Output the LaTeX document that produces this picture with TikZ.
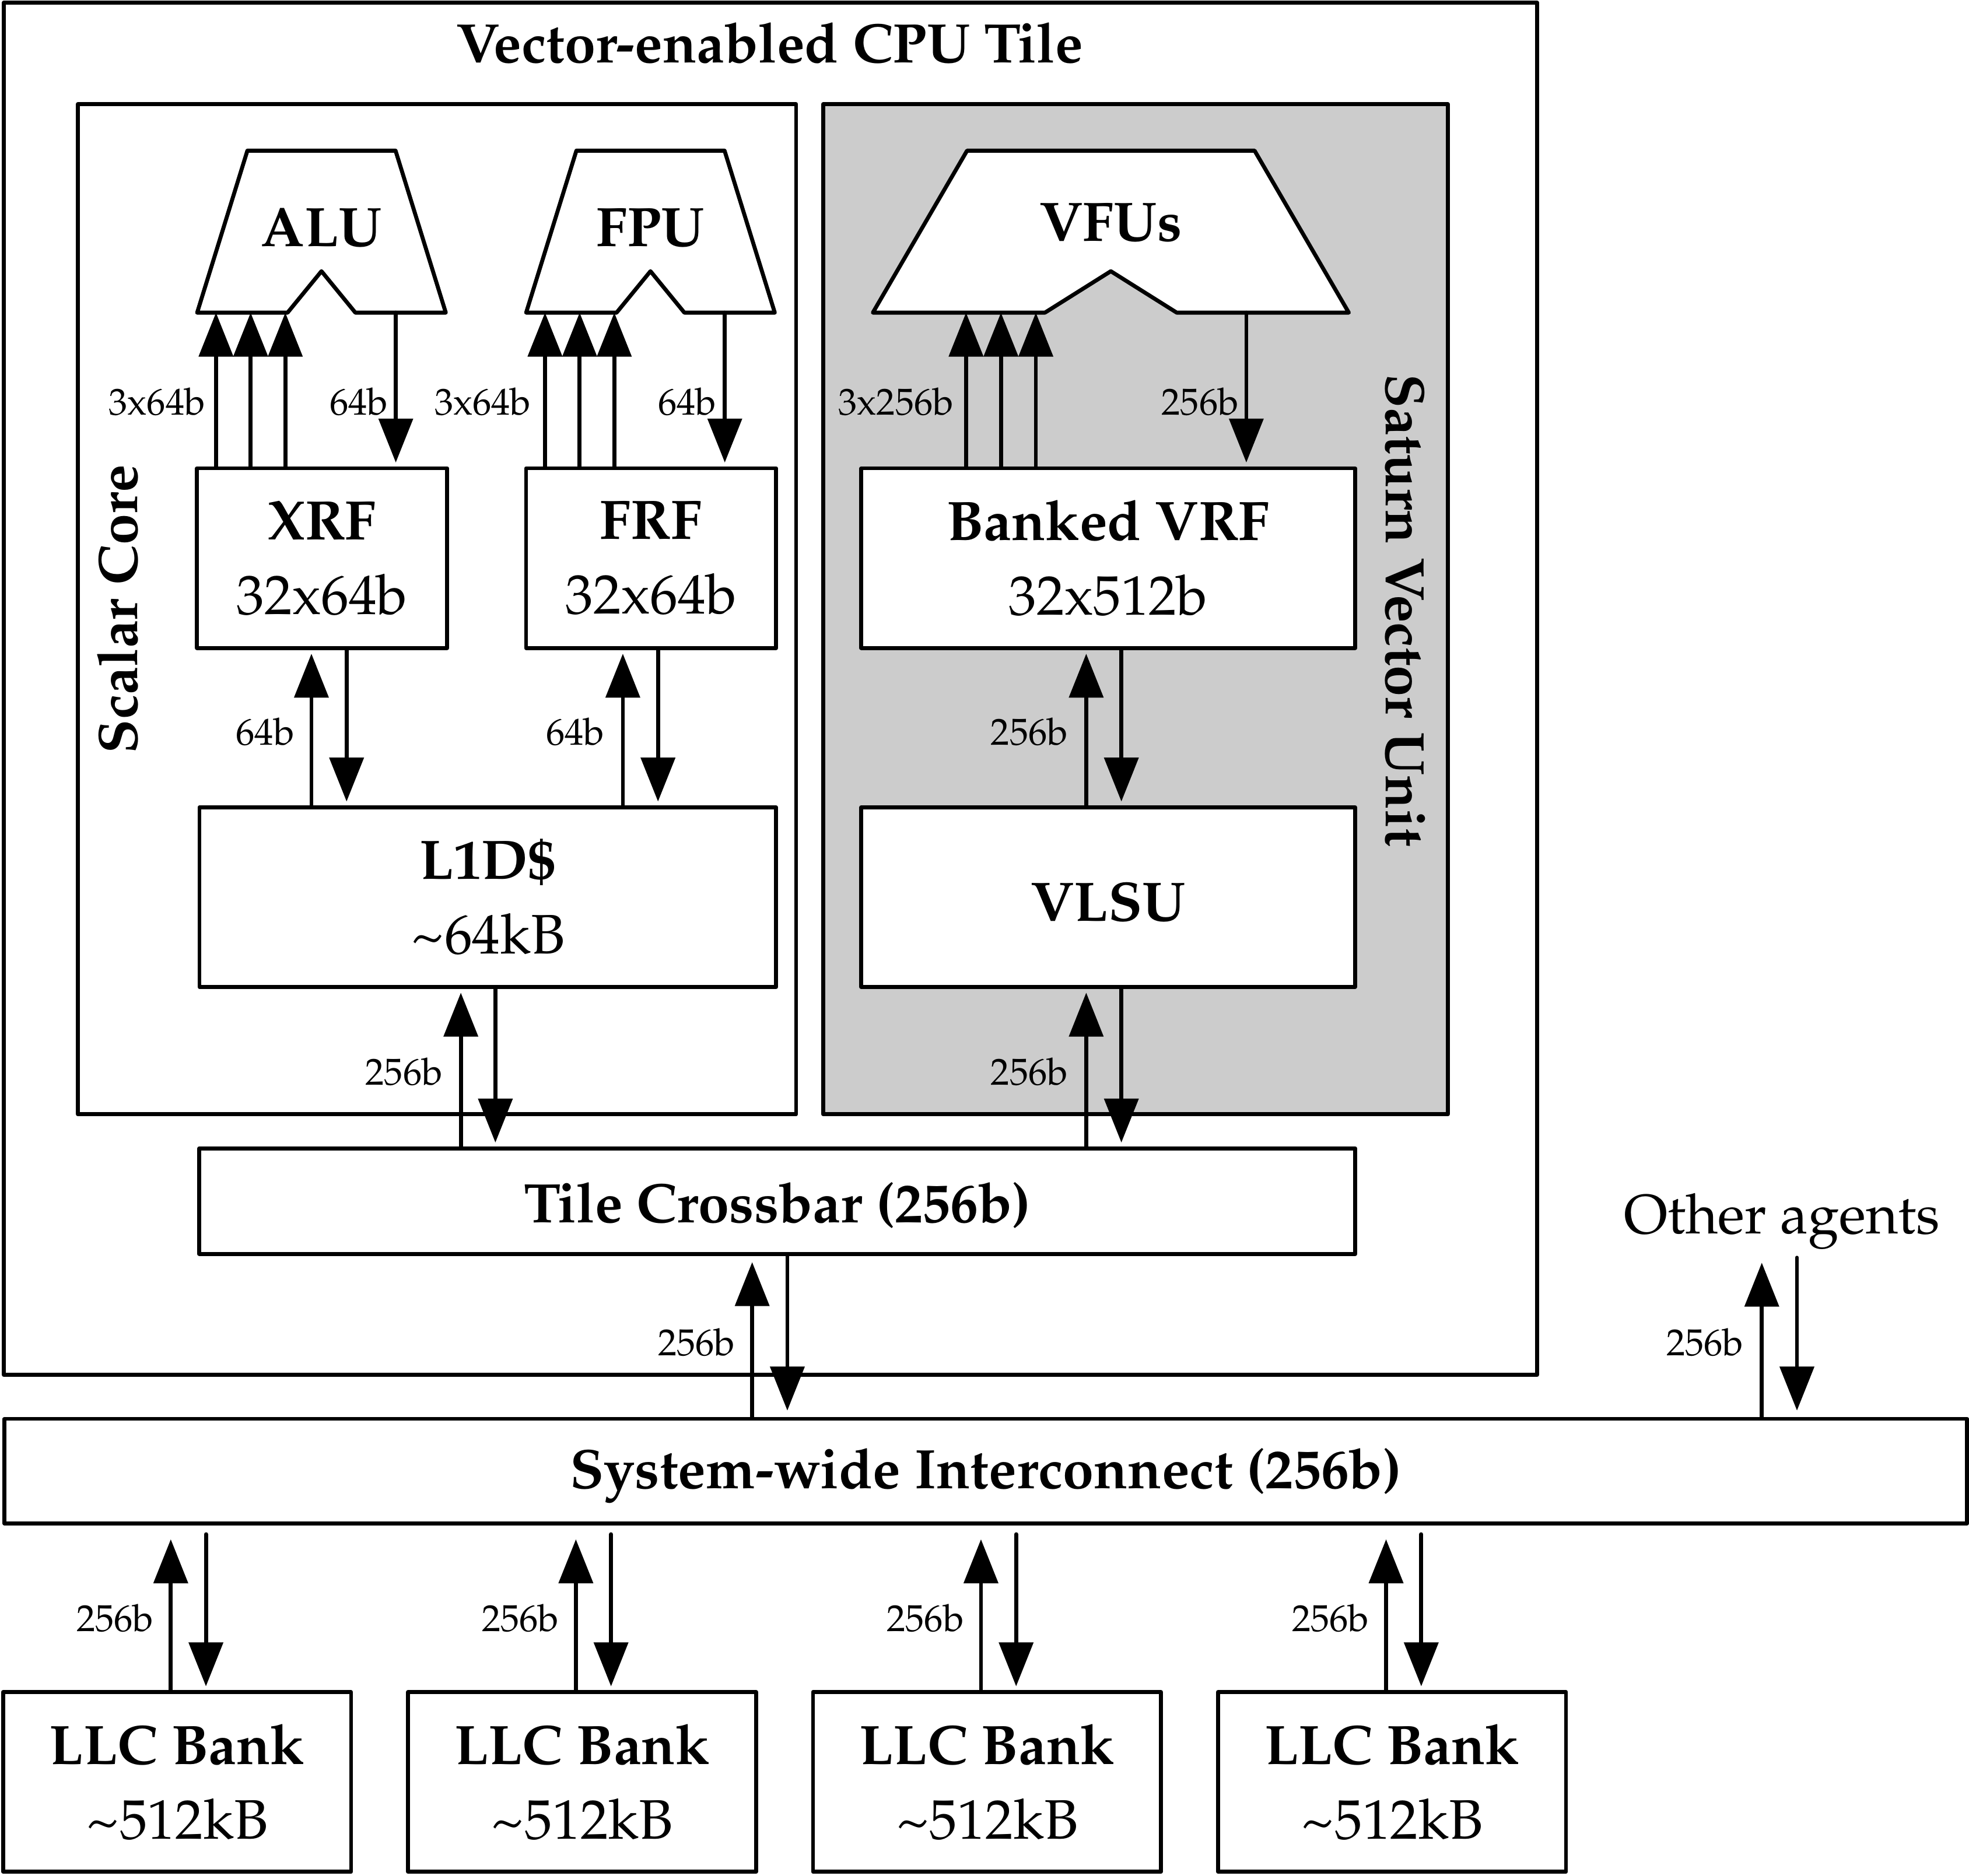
\documentclass[tikz,border=0pt]{standalone}
\IfFileExists{mathpazo.sty}{\usepackage[T1]{fontenc}\usepackage{mathpazo}}{\usepackage{fontspec}\setmainfont{Liberation Serif}}
\usetikzlibrary{arrows.meta}

\newcommand\blockfont{\fontsize{12.6}{16.9}\selectfont}
\newcommand\busfont{\fontsize{8.5}{10}\selectfont}

\begin{document}
\begin{tikzpicture}[x=0.01cm, y=-0.01cm,
  line width=0.9pt, line cap=round, line join=round,
  blk/.style={draw, fill=white, inner sep=0pt, align=center, font=\blockfont,
    execute at begin node={\rule{0pt}{11pt}}},
  bus/.style={-{Triangle[length=3.5mm, width=2.7mm]}, shorten >=0.3mm},
  lbl/.style={font=\busfont, inner sep=0pt, anchor=east},
  title/.style={font=\blockfont\bfseries, inner sep=0pt, anchor=base}]

\path [use as bounding box] (0,0) rectangle (1568,1493.7);

% TILE
\draw (3,2) rectangle (1224,1095);
\node [title] (tiletxt) at (613,50) {Vector-enabled CPU Tile};
\draw (62,83) rectangle (634,887.5);
\draw [fill=black!20] (655.5,83) rectangle (1153,887.5);
\node [title, rotate=90] (coretxt) at (109.6,485) {Scalar Core};
\node [title, rotate=-90] (vectxt) at (1104,486) {Saturn Vector Unit};

% FUNCTIONAL UNITS
\coordinate (alu) at (256,249);
\coordinate (fpu) at (518,249);
\coordinate (vfu) at (884.6,249);
\foreach \n in {alu,fpu}
  \draw [fill=white] (\n) ++(-99,0) -- ++(40,-129) -- ++(118,0) -- ++(40,129)
    -- ++(-72,0) -- ++(-27,-33) -- ++(-27,33) -- cycle;
\draw [fill=white] (vfu) ++(-189.5,0) -- ++(75,-129) -- ++(229,0) -- ++(75,129)
  -- ++(-137,0) -- ++(-52.5,-33) -- ++(-52.5,33) -- cycle;
\node [title] (alutxt) at (256,196) {ALU};
\node [title] (fputxt) at (518,196) {FPU};
\node [title] (vfutxt) at (884.6,192) {VFUs};

% BLOCKS
\node [blk, minimum width=1.99cm, minimum height=1.43cm] (xrf) at (256.5,444.5) {\textbf{XRF}\\32x64b};
\node [blk, minimum width=1.99cm, minimum height=1.43cm] (frf) at (518.5,444.5) {\textbf{FRF}\\32x64b};
\node [blk, minimum width=3.93cm, minimum height=1.43cm] (vrf) at (882.5,444.5) {\textbf{Banked VRF}\\32x512b};
\node [blk, minimum width=4.59cm, minimum height=1.43cm] (l1d) at (388.5,714.5) {\textbf{L1D\$}\\\textasciitilde 64kB};
\node [blk, minimum width=3.93cm, minimum height=1.43cm] (vlsu) at (882.5,714.5) {\textbf{VLSU}};
\node [blk, minimum width=9.2cm, minimum height=0.84cm] (xbar) at (619,956.6) {\textbf{Tile Crossbar (256b)}};
\node [blk, minimum width=15.62cm, minimum height=0.833cm] (noc) at (785,1171.7) {\textbf{System-wide Interconnect (256b)}};
\node [font=\blockfont, inner sep=0pt, anchor=base] (oth) at (1419,982.6) {Other agents};
\foreach \i in {0,...,3}
  \node [blk, minimum width=2.77cm, minimum height=1.43cm] (llc\i) at (141+\i*322.5,1419.2) {\textbf{LLC Bank}\\\textasciitilde 512kB};

% BUSES
\foreach \x in {172,199.6,227.2}
  \draw [bus, shorten >=0mm] (xrf.north -| \x,0) -- (alu -| \x,0);
\draw [bus] (alu -| 315.2,0) -- (xrf.north -| 315.2,0);
\foreach \x in {434,461.6,489.2}
  \draw [bus, shorten >=0mm] (frf.north -| \x,0) -- (fpu -| \x,0);
\draw [bus] (fpu -| 577.2,0) -- (frf.north -| 577.2,0);
\foreach \x in {769.3,797.1,824.9}
  \draw [bus, shorten >=0mm] (vrf.north -| \x,0) -- (vfu -| \x,0);
\draw [bus] (vfu -| 992.5,0) -- (vrf.north -| 992.5,0);

\draw [bus] (l1d.north -| 248,0) -- (xrf.south -| 248,0);
\draw [bus] (xrf.south -| 276,0) -- (l1d.north -| 276,0);
\draw [bus] (l1d.north -| 496,0) -- (frf.south -| 496,0);
\draw [bus] (frf.south -| 524,0) -- (l1d.north -| 524,0);
\draw [bus] (vlsu.north -| 865,0) -- (vrf.south -| 865,0);
\draw [bus] (vrf.south -| 893,0) -- (vlsu.north -| 893,0);

\draw [bus] (xbar.north -| 367,0) -- (l1d.south -| 367,0);
\draw [bus] (l1d.south -| 394.5,0) -- (xbar.north -| 394.5,0);
\draw [bus] (xbar.north -| 865,0) -- (vlsu.south -| 865,0);
\draw [bus] (vlsu.south -| 893,0) -- (xbar.north -| 893,0);

\draw [bus, shorten >=0.5mm] (noc.north -| 599,0) -- (xbar.south -| 599,0);
\draw [bus, shorten >=0.5mm] (xbar.south -| 627,0) -- (noc.north -| 627,0);
\draw [bus, shorten >=0.9mm] (noc.north -| 1403,0) -- (oth.south -| 1403,0);
\draw [bus, shorten <=0.5mm, shorten >=0.5mm] (oth.south -| 1431,0) -- (noc.north -| 1431,0);

\foreach \i in {0,...,3} {
  \draw [bus, shorten >=1.1mm] (llc\i.north -| 136+\i*322.6,0) -- (noc.south -| 136+\i*322.6,0);
  \draw [bus, shorten <=0.7mm] (noc.south -| 164+\i*322.6,0) -- (llc\i.north -| 164+\i*322.6,0);
  \node [lbl] (llclbl\i) at (124+\i*322.6,1289) {256b};
}

% WIDTHS
\node [lbl] (alulbla) at (165,320) {3x64b};
\node [lbl] (alulblb) at (310.5,320) {64b};
\node [lbl] (fpulbla) at (424.5,320) {3x64b};
\node [lbl] (fpulblb) at (572,320) {64b};
\node [lbl] (vfulbla) at (761,320) {3x256b};
\node [lbl] (vfulblb) at (988,320) {256b};
\node [lbl] (xrflbl) at (236,583) {64b};
\node [lbl] (frflbl) at (483,583) {64b};
\node [lbl] (vrflbl) at (852,583) {256b};
\node [lbl] (l1dlbl) at (354,853.5) {256b};
\node [lbl] (vlsulbl) at (852,853.5) {256b};
\node [lbl] (xbarlbl) at (587,1069) {256b};
\node [lbl] (othlbl) at (1390,1069) {256b};

\end{tikzpicture}
\end{document}
